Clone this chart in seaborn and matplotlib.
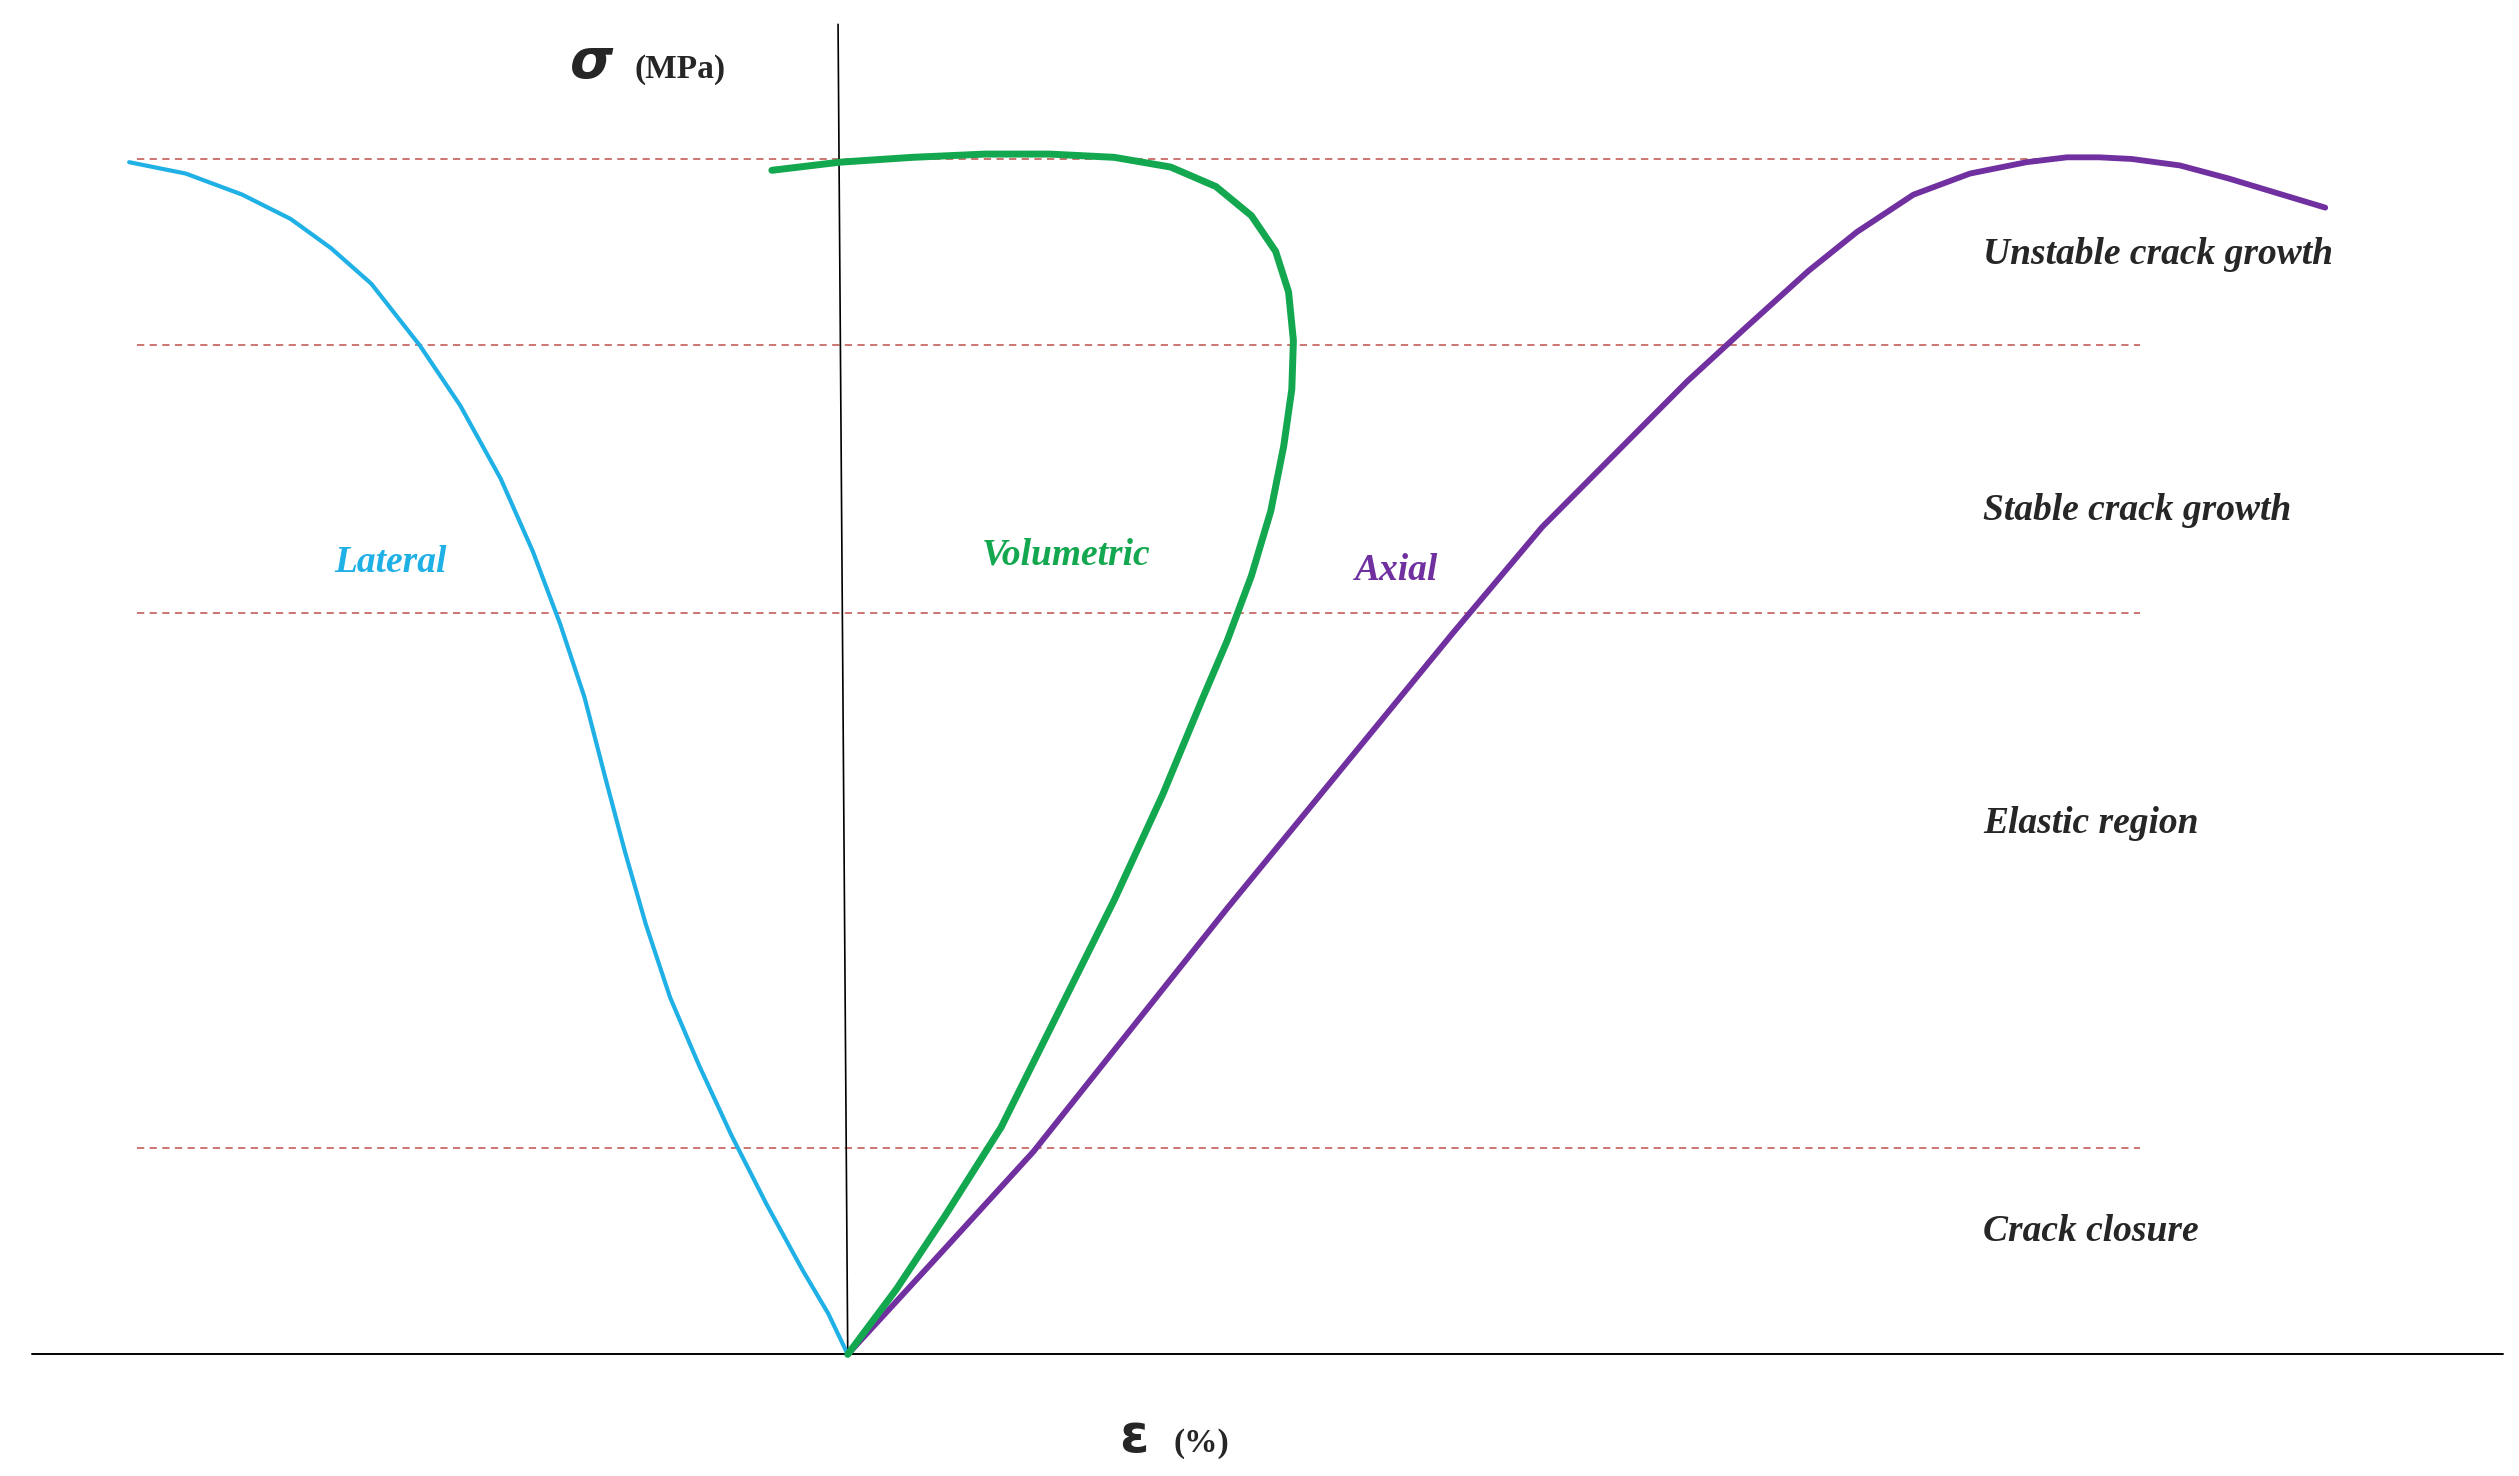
import matplotlib

matplotlib.use("Agg")

import matplotlib.pyplot as plt
import pandas as pd
import seaborn as sns

# curve shapes (strain, stress in arbitrary units)
lateral_x = [-445, -410, -375, -345, -320, -295, -265, -240, -215, -195, -178, -163, -150,
             -138, -125, -110, -92, -72, -50, -28, -12, 0]
lateral_y = [735, 728, 715, 700, 682, 660, 622, 585, 540, 495, 450, 405, 355,
             310, 265, 220, 178, 135, 92, 52, 25, 0]

volumetric_x = [-47, -5, 40, 85, 125, 165, 200, 228, 250, 265, 273, 276, 275, 270, 262,
                250, 235, 220, 195, 165, 130, 95, 60, 30, 0]
volumetric_y = [730, 735, 738, 740, 740, 738, 732, 720, 702, 680, 655, 625, 595, 560, 520,
                480, 440, 405, 345, 280, 210, 140, 85, 40, 0]

axial_x = [0, 60, 115, 175, 235, 305, 375, 430, 475, 520, 555, 595, 625, 660, 695, 730,
           755, 775, 795, 825, 855, 885, 915]
axial_y = [0, 65, 125, 200, 275, 360, 445, 510, 555, 600, 632, 668, 692, 715, 728, 735,
           738, 738, 737, 733, 725, 716, 707]

region_levels = [737, 622, 457, 127]
region_names = ["Unstable crack growth", "Stable crack growth", "Elastic region", "Crack closure"]
region_label_y = [678, 520, 327, 76]

sns.set_theme(style="white")
plt.rcParams["font.family"] = ["Liberation Serif", "DejaVu Serif"]

fig = plt.figure(figsize=(25.19, 14.76), dpi=100)
ax = fig.add_axes([0, 0, 1, 1])

for lvl in region_levels:
    ax.plot([-440, 800], [lvl, lvl], ls=(0, (4, 3)), color="#c0504d", lw=1.3, alpha=0.85)

ax.plot([-505, 1025], [0, 0], color="black", lw=1.4)
ax.plot([0, -6], [0, 820], color="black", lw=1.2)

curves = pd.concat([
    pd.DataFrame({"strain": lateral_x, "stress": lateral_y, "curve": "Lateral"}),
    pd.DataFrame({"strain": volumetric_x, "stress": volumetric_y, "curve": "Volumetric"}),
    pd.DataFrame({"strain": axial_x, "stress": axial_y, "curve": "Axial"}),
], ignore_index=True)
palette = {"Lateral": "#1fb0e6", "Volumetric": "#13a84f", "Axial": "#7030a0"}
widths = {"Lateral": 3.0, "Volumetric": 5.0, "Axial": 4.2}
for name, part in curves.groupby("curve"):
    sns.lineplot(data=part, x="strain", y="stress", sort=False, estimator=None,
                 color=palette[name], lw=widths[name], ax=ax, legend=False)
ax.set_xlim(-525, 1035)
ax.set_ylim(-75, 835)
ax.axis("off")

lab = dict(fontsize=27, fontweight="bold", style="italic")
ax.text(-283, 488, "Lateral", color=palette["Lateral"], ha="center", va="center", **lab)
ax.text(135, 493, "Volumetric", color=palette["Volumetric"], ha="center", va="center", **lab)
ax.text(340, 483, "Axial", color=palette["Axial"], ha="center", va="center", **lab)

for name, yy in zip(region_names, region_label_y):
    ax.text(703, yy, name, fontsize=27, fontweight="bold", style="italic", ha="left", va="center")

ax.text(-172, 796, "σ", fontsize=40, fontweight="bold", style="italic", ha="left", va="center",
        family=["DejaVu Sans"])
ax.text(-132, 792, "(MPa)", fontsize=24, fontweight="bold", ha="left", va="center")
ax.text(168, -51, "ε", fontsize=38, fontweight="bold", ha="left", va="center", family=["DejaVu Sans"])
ax.text(202, -55, "(%)", fontsize=24, fontweight="bold", ha="left", va="center")

fig.savefig("out.png", dpi=100)
